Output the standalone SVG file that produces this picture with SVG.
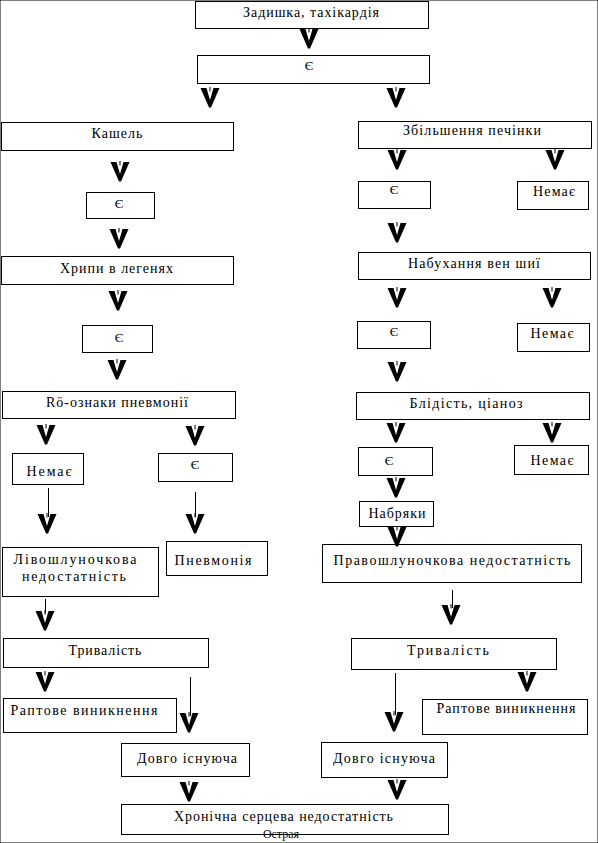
<svg xmlns="http://www.w3.org/2000/svg" xmlns:xlink="http://www.w3.org/1999/xlink" width="598" height="843" viewBox="0 0 598 843" font-family="'Liberation Serif', 'DejaVu Serif', serif">
<style>
rect{fill:#fff;stroke:#000;stroke-width:1}
text{font-family:'Liberation Serif','DejaVu Serif',serif;font-size:14px;fill:#000;text-anchor:middle}
text.e{font-size:13px}
text.s{font-size:12px}
.ln{stroke:#000;stroke-width:1;fill:none}
</style>
<defs>
<g id="v">
<path d="M-9.5,0 L-3.5,0 L0,12 L3.5,0 L9.5,0 L1,19.5 L-1,19.5 Z" fill="#000"/>
<line x1="0" y1="-1" x2="0" y2="3.5" stroke="#000" stroke-width="1"/>
</g>
</defs>
<rect width="598" height="843" fill="#fff" stroke="none"/>

<g id="n1"><rect x="195.5" y="1.5" width="233" height="27"/><text x="311" y="17" textLength="136">Задишка, тахікардія</text></g>
<g id="n2"><rect x="197.5" y="55.5" width="232" height="28"/><text class="e" x="309" y="70">Є</text></g>
<g id="n3"><rect x="1.5" y="122.5" width="232" height="28"/><text x="117" y="138" textLength="51">Кашель</text></g>
<g id="n4"><rect x="86.5" y="192.5" width="68" height="26"/><text class="e" x="119" y="208">Є</text></g>
<g id="n5"><rect x="1.5" y="256.5" width="232" height="28"/><text x="116.5" y="273" textLength="113">Хрипи в легенях</text></g>
<g id="n6"><rect x="82.5" y="325.5" width="70" height="27"/><text class="e" x="119" y="342">Є</text></g>
<g id="n7"><rect x="2.5" y="391.5" width="233" height="27"/><text x="117" y="407" textLength="142">Rö-ознаки пневмонії</text></g>
<g id="n8"><rect x="12.5" y="453.5" width="71" height="31"/><text x="49" y="476" textLength="45">Немає</text></g>
<g id="n9"><rect x="158.5" y="453.5" width="74" height="28"/><text class="e" x="195" y="469">Є</text></g>
<g id="n10"><rect x="2.5" y="547.5" width="156" height="49"/><text x="75" y="564" textLength="123">Лівошлуночкова</text><text x="74" y="581" textLength="104">недостатність</text></g>
<g id="n11"><rect x="166.5" y="541.5" width="101" height="34"/><text x="213" y="565" textLength="77">Пневмонія</text></g>
<g id="n12"><rect x="3.5" y="638.5" width="205" height="29"/><text x="105" y="655" textLength="73">Тривалість</text></g>
<g id="n13"><rect x="3.5" y="698.5" width="173" height="34"/><text x="84" y="715" textLength="147">Раптове виникнення</text></g>
<g id="n14"><rect x="121.5" y="743.5" width="128" height="33"/><text x="187" y="763" textLength="100">Довго існуюча</text></g>
<g id="n15"><rect x="121.5" y="804.5" width="327" height="30"/><text x="283.5" y="821" textLength="219">Хронічна серцева недостатність</text><text class="s" x="281" y="838">Острая</text></g>

<g id="n16"><rect x="358.5" y="121.5" width="233" height="27"/><text x="472" y="134.5" textLength="138">Збільшення печінки</text></g>
<g id="n17"><rect x="358.5" y="181.5" width="72" height="27"/><text class="e" x="394" y="194">Є</text></g>
<g id="n18"><rect x="517.5" y="181.5" width="71" height="28"/><text x="554" y="196" textLength="42">Немає</text></g>
<g id="n19"><rect x="358.5" y="252.5" width="232" height="27"/><text x="474" y="268" textLength="132">Набухання вен шиї</text></g>
<g id="n20"><rect x="357.5" y="321.5" width="73" height="27"/><text class="e" x="394" y="336">Є</text></g>
<g id="n21"><rect x="517.5" y="323.5" width="72" height="28"/><text x="552" y="338" textLength="43">Немає</text></g>
<g id="n22"><rect x="356.5" y="392.5" width="233" height="27"/><text x="466" y="408" textLength="113">Блідість, ціаноз</text></g>
<g id="n23"><rect x="358.5" y="447.5" width="74" height="28"/><text class="e" x="389" y="465">Є</text></g>
<g id="n24"><rect x="514.5" y="445.5" width="74" height="29"/><text x="552" y="465" textLength="43">Немає</text></g>
<g id="n25"><rect x="359.5" y="501.5" width="74" height="25"/><text x="397" y="518" textLength="57">Набряки</text></g>
<g id="n26"><rect x="322.5" y="544.5" width="259" height="38"/><text x="452" y="565" textLength="237">Правошлуночкова недостатність</text></g>
<g id="n27"><rect x="351.5" y="638.5" width="205" height="31"/><text x="448" y="655" textLength="82">Тривалість</text></g>
<g id="n28"><rect x="422.5" y="699.5" width="165" height="35"/><text x="506" y="713" textLength="139">Раптове виникнення</text></g>
<g id="n29"><rect x="321.5" y="742.5" width="126" height="35"/><text x="384" y="763" textLength="102">Довго існуюча</text></g>

<g id="connectors">
<line class="ln" x1="48.5" y1="488" x2="48.5" y2="517"/>
<line class="ln" x1="195.5" y1="492" x2="195.5" y2="517"/>
<line class="ln" x1="45.5" y1="599" x2="45.5" y2="613"/>
<line class="ln" x1="452.5" y1="590" x2="452.5" y2="608"/>
<line class="ln" x1="190.5" y1="677" x2="190.5" y2="716"/>
<line class="ln" x1="395.5" y1="673" x2="395.5" y2="715"/>
<use xlink:href="#v" x="309" y="29"/>
<use xlink:href="#v" x="210" y="88"/>
<use xlink:href="#v" x="396" y="88"/>
<use xlink:href="#v" x="120" y="162"/>
<use xlink:href="#v" x="397" y="150"/>
<use xlink:href="#v" x="555" y="150"/>
<use xlink:href="#v" x="119" y="229"/>
<use xlink:href="#v" x="397" y="223"/>
<use xlink:href="#v" x="118" y="291"/>
<use xlink:href="#v" x="397" y="288"/>
<use xlink:href="#v" x="552" y="288"/>
<use xlink:href="#v" x="117" y="360"/>
<use xlink:href="#v" x="397" y="362"/>
<use xlink:href="#v" x="46" y="425"/>
<use xlink:href="#v" x="195" y="426"/>
<use xlink:href="#v" x="396" y="423"/>
<use xlink:href="#v" x="552" y="423"/>
<use xlink:href="#v" x="396" y="478"/>
<use xlink:href="#v" x="397" y="527"/>
<use xlink:href="#v" x="47" y="514"/>
<use xlink:href="#v" x="195" y="514"/>
<use xlink:href="#v" x="45" y="611"/>
<use xlink:href="#v" x="451" y="605"/>
<use xlink:href="#v" x="45" y="672"/>
<use xlink:href="#v" x="189" y="713"/>
<use xlink:href="#v" x="527" y="672"/>
<use xlink:href="#v" x="394" y="712"/>
<use xlink:href="#v" x="189" y="782"/>
<use xlink:href="#v" x="397" y="780"/>
</g>
</svg>
